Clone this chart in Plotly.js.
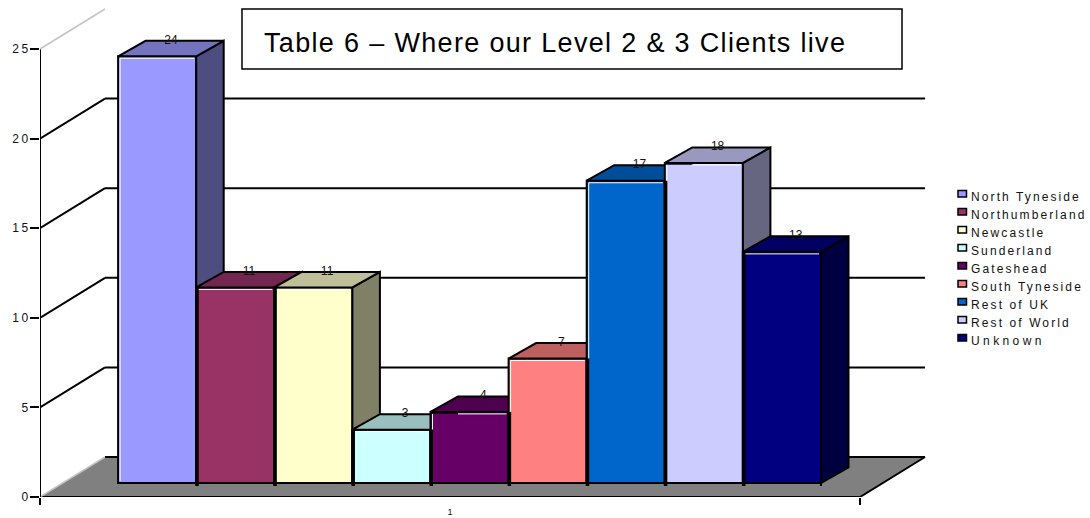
<!DOCTYPE html>
<html>
<head>
<meta charset="utf-8">
<script src="https://cdn.plot.ly/plotly-3.0.1.min.js"></script>
<style>
  html, body { margin: 0; padding: 0; background: #fff; }
  #chart { width: 1090px; height: 518px; }
  .ytick text { letter-spacing: 2.5px; }
  .gtitle { letter-spacing: 1.33px; }
</style>
</head>
<body>
<div id="chart"></div>
<script>
// Clients by area
const categories = ['North Tyneside', 'Northumberland', 'Newcastle', 'Sunderland', 'Gateshead',
                    'South Tyneside', 'Rest of UK', 'Rest of World', 'Unknown'];
const clients = [24, 11, 11, 3, 4, 7, 17, 18, 13];

// Face colours of each column
const frontColors = ['#9999FF', '#993366', '#FFFFCC', '#CCFFFF', '#660066', '#FF8080', '#0066CC', '#CCCCFF', '#000080'];
const topColors   = ['#7373BF', '#732650', '#BFBF99', '#99BFBF', '#4D004D', '#BF6060', '#004D99', '#9999BF', '#000060'];
const sideColors  = ['#4D4D80', '#4D1A33', '#808066', '#668080', '#330033', '#804040', '#003366', '#666680', '#000040'];

const yTicks = [0, 5, 10, 15, 20, 25];
const xTickLabels = ['1'];

// Frame geometry, in pixels of the 1090x518 figure
const W = 1090, H = 518, L = 40, B = 21;
const plotW = W - L, plotH = H - B;
const barPx = 78.1, wallPx = 17.92, barScalePx = 17.78, baseLift = 14;
const floorEnd = 820 / barPx;
const wallDX = 65 / barPx, wallDY = 40 / wallPx;
const barDX = 27.5 / barPx, barDY = 15.5 / barScalePx;
const ink = '#000', lineW = 2;
const font = 'Liberation Sans, Arial, sans-serif';

const paperX = px => (px - L) / plotW;
const paperY = py => (plotH - py) / plotH;

const traces = [];

function wallLine(xs, ys, color, width) {
  traces.push({ type: 'scatter', mode: 'lines', x: xs, y: ys, xaxis: 'x', yaxis: 'y',
    line: { color: color, width: width }, hoverinfo: 'skip', showlegend: false });
}

// Floor
traces.push({ type: 'scatter', mode: 'lines', xaxis: 'x', yaxis: 'y', fill: 'toself', fillcolor: '#808080',
  x: [0, floorEnd, floorEnd + wallDX, wallDX, 0], y: [0, 0, wallDY, wallDY, 0],
  line: { width: 0 }, hoverinfo: 'skip', showlegend: false });
wallLine([0, floorEnd], [0, 0], ink, lineW);
wallLine([floorEnd, floorEnd + wallDX], [0, wallDY], ink, lineW);
wallLine([0, wallDX], [0, wallDY], '#c4c4c4', 1.5);

// Value axis and back-wall gridlines
wallLine([0, 0], [0, 25], ink, lineW);
yTicks.forEach(t => {
  if (t === 25) { wallLine([0, wallDX], [t, t + wallDY], '#c4c4c4', 1.5); return; }
  if (t !== 0) wallLine([0, wallDX], [t, t + wallDY], ink, lineW);
  wallLine([wallDX, floorEnd + wallDX], [t + wallDY, t + wallDY], ink, lineW);
});

// Columns, one overlaid axis each so they paint from left to right
const layoutAxes = {};
clients.forEach((v, i) => {
  const axisId = 'y' + (i + 2);
  layoutAxes['yaxis' + (i + 2)] = {
    overlaying: 'y', visible: false, fixedrange: true,
    range: [-baseLift / barScalePx, (plotH - baseLift) / barScalePx]
  };
  const x0 = i + 1, x1 = i + 2, name = categories[i];
  const prev = i > 0 ? clients[i - 1] : 0;
  const inX = 2 / barPx, inY = 2 / barScalePx;
  const tickDown = -3 / barScalePx;
  const seam = Math.min(prev, v);

  const lineTrace = (xs, ys, color, width) => ({ type: 'scatter', mode: 'lines', x: xs, y: ys, xaxis: 'x', yaxis: axisId,
    line: { color: color, width: width }, hoverinfo: 'skip', showlegend: false });

  traces.push({ type: 'bar', x: [i + 1.5], y: [v], width: 1, name: name, xaxis: 'x', yaxis: axisId,
    marker: { color: frontColors[i], line: { color: ink, width: lineW } }, showlegend: false });
  traces.push({ type: 'scatter', mode: 'lines', xaxis: 'x', yaxis: axisId, fill: 'toself', fillcolor: sideColors[i],
    x: [x1, x1 + barDX, x1 + barDX, x1, x1], y: [v, v + barDY, barDY, 0, v],
    line: { color: ink, width: lineW }, hoverinfo: 'skip', showlegend: false });
  traces.push({ type: 'scatter', mode: 'lines', xaxis: 'x', yaxis: axisId, fill: 'toself', fillcolor: topColors[i],
    x: [x0, x0 + barDX, x1 + barDX, x1, x0], y: [v, v + barDY, v + barDY, v, v],
    line: { color: ink, width: lineW }, hoverinfo: 'skip', showlegend: false });

  // White highlight inside the front face; it stops where the left neighbour's back edge runs along the top
  const backEdgeHit = i > 0 && Math.abs(prev + barDY - v) < 0.3;
  const topStart = backEdgeHit ? x0 + barDX : x0 + inX;
  if (v > prev) traces.push(lineTrace([x0 + inX, x0 + inX], [Math.max(prev, inY), v - inY], '#fff', 1));
  traces.push(lineTrace([topStart, x1 - inX], [v - inY, v - inY], '#fff', 1));
  if (backEdgeHit) traces.push(lineTrace([x0, x0 + barDX], [v - 0.5 * inY, v - 0.5 * inY], ink, 1.5));

  // Heavier seam against the left neighbour, with a small nick under the baseline
  if (i > 0) traces.push(lineTrace([x0 + 0.8 / barPx, x0 + 0.8 / barPx], [tickDown, seam], ink, 3.5));
  if (i === clients.length - 1) traces.push(lineTrace([x1, x1], [tickDown, 0], ink, lineW));

  // Value label on the back edge of the top face
  traces.push({ type: 'scatter', mode: 'text', xaxis: 'x', yaxis: axisId,
    x: [i + 1.5 + barDX / 2], y: [v + barDY], text: [String(v)], textposition: 'middle center',
    textfont: { family: font, size: 12, color: '#111' },
    hoverinfo: 'skip', showlegend: false });
});

// Title box and key
const shapes = [{
  type: 'rect', xref: 'paper', yref: 'paper', layer: 'above',
  x0: paperX(242), x1: paperX(902), y0: paperY(69), y1: paperY(9),
  fillcolor: '#fff', line: { color: ink, width: 1.5 }
}];
const annotations = [];
categories.forEach((name, i) => {
  const rowY = 196.5 + 18 * i;
  shapes.push({ type: 'rect', xref: 'paper', yref: 'paper', layer: 'above',
    x0: paperX(958), x1: paperX(966.5), y0: paperY(rowY + 0.5), y1: paperY(rowY - 6),
    fillcolor: frontColors[i], line: { color: ink, width: 1.5 } });
  const spacing = name === 'Unknown' ? 3.4 : 2.1;
  annotations.push({ xref: 'paper', yref: 'paper', x: paperX(970), y: paperY(rowY), xanchor: 'left', yanchor: 'middle',
    showarrow: false, borderpad: 0, align: 'left',
    text: '<span style="letter-spacing:' + spacing + 'px">' + name + '</span>',
    font: { family: font, size: 12, color: '#111' } });
});

const layout = Object.assign({
  width: W, height: H,
  margin: { l: L, r: 0, t: 0, b: B, pad: 0 },
  paper_bgcolor: '#fff', plot_bgcolor: '#fff',
  showlegend: false,
  title: { text: 'Table 6 – Where our Level 2 & 3 Clients live', xref: 'container', yref: 'container',
    x: 264 / W, xanchor: 'left', y: 1 - 43 / H, yanchor: 'middle',
    font: { family: font, size: 27, color: '#000' } },
  xaxis: {
    range: [0, plotW / barPx], showgrid: false, zeroline: false, showline: false, fixedrange: true,
    tickmode: 'array', tickvals: [floorEnd / 2], ticktext: xTickLabels, ticks: '', ticklabelstandoff: 8,
    tickfont: { family: font, size: 9, color: '#111' },
    minor: { tickmode: 'array', tickvals: [0, floorEnd], ticks: 'outside', ticklen: 7, tickwidth: lineW, tickcolor: ink, showgrid: false }
  },
  yaxis: {
    range: [0, plotH / wallPx], showgrid: false, zeroline: false, showline: false, fixedrange: true,
    tickmode: 'array', tickvals: yTicks, ticks: 'outside', ticklen: 9, tickwidth: lineW, tickcolor: ink,
    ticklabelstandoff: -3,
    tickfont: { family: font, size: 12, color: '#111' }
  },
  barmode: 'overlay',
  shapes: shapes, annotations: annotations
}, layoutAxes);

Plotly.newPlot('chart', traces, layout, { staticPlot: true, displayModeBar: false });
</script>
</body>
</html>
